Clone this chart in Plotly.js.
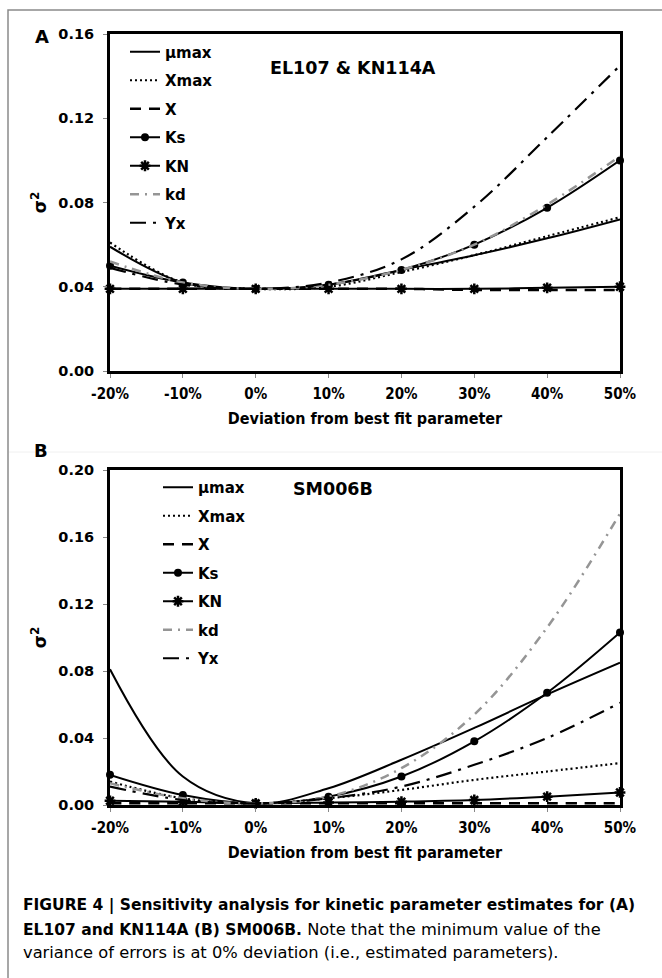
<!DOCTYPE html>
<html>
<head>
<meta charset="utf-8">
<script src="https://cdn.plot.ly/plotly-3.0.1.min.js"></script>
<style>
  html, body { margin: 0; padding: 0; background: #fff; }
  #chart { width: 662px; height: 978px; }
</style>
</head>
<body>
<div id="chart"></div>
<script>
// ---- data ----
const xPct = [-20, -10, 0, 10, 20, 30, 40, 50];
const seriesNames = ["μmax", "Xmax", "X", "Ks", "KN", "kd", "Yx"];

// Panel A: EL107 & KN114A
const muMaxA = [0.059, 0.042, 0.039, 0.041, 0.048, 0.055, 0.063, 0.072];
const xMaxA  = [0.061, 0.042, 0.039, 0.040, 0.047, 0.055, 0.064, 0.073];
const xA     = [0.039, 0.039, 0.039, 0.039, 0.039, 0.0385, 0.0385, 0.0385];
const ksA    = [0.050, 0.042, 0.039, 0.041, 0.048, 0.060, 0.0775, 0.100];
const knA    = [0.039, 0.039, 0.039, 0.039, 0.039, 0.039, 0.0395, 0.040];
const kdA    = [0.052, 0.042, 0.039, 0.041, 0.048, 0.060, 0.079, 0.102];
const yxA    = [0.049, 0.041, 0.039, 0.042, 0.053, 0.078, 0.111, 0.145];

// Panel B: SM006B
const muMaxB = [0.081, 0.017, 0.001, 0.010, 0.027, 0.046, 0.066, 0.085];
const xMaxB  = [0.014, 0.004, 0.001, 0.004, 0.009, 0.015, 0.020, 0.025];
const xB     = [0.001, 0.001, 0.001, 0.001, 0.001, 0.001, 0.001, 0.001];
const ksB    = [0.018, 0.006, 0.001, 0.005, 0.017, 0.038, 0.067, 0.103];
const knB    = [0.0025, 0.002, 0.001, 0.0015, 0.002, 0.003, 0.005, 0.0075];
const kdB    = [0.013, 0.004, 0.001, 0.005, 0.022, 0.054, 0.106, 0.174];
const yxB    = [0.011, 0.003, 0.001, 0.004, 0.011, 0.024, 0.040, 0.061];

const panelA = [muMaxA, xMaxA, xA, ksA, knA, kdA, yxA];
const panelB = [muMaxB, xMaxB, xB, ksB, knB, kdB, yxB];

// ---- styles ----
const W = 662, H = 978;
const px = v => v / W;
const py = v => 1 - v / H;
const FONT = "DejaVu Sans, Liberation Sans, Arial, sans-serif";
const FONTC = "DejaVu Sans Condensed, DejaVu Sans, Liberation Sans, Arial, sans-serif";

const styles = [
  {line: {color: "#000", width: 2, dash: "solid"}, mode: "lines"},
  {line: {color: "#000", width: 2.2, dash: "2px,3px"}, mode: "lines"},
  {line: {color: "#000", width: 2.5, dash: "11px,8px"}, mode: "lines"},
  {line: {color: "#000", width: 2}, mode: "lines+markers", marker: {symbol: "circle", size: 8, color: "#000"}},
  {line: {color: "#000", width: 2}, mode: "lines+markers", marker: {symbol: "asterisk-open", size: 9, color: "#000", line: {width: 2.5, color: "#000"}}},
  {line: {color: "#959595", width: 2.5, dash: "9px,6px,2px,6px"}, mode: "lines"},
  {line: {color: "#000", width: 2.2, dash: "16px,7px,3px,7px"}, mode: "lines"}
];

const traces = [];
function addPanel(data, xa, ya, legendId) {
  data.forEach((ys, i) => {
    const st = styles[i];
    const tr = {
      type: "scatter",
      x: xPct, y: ys,
      name: seriesNames[i],
      xaxis: xa, yaxis: ya,
      legend: legendId,
      legendgroup: legendId + "_" + i,
      cliponaxis: false,
      line: Object.assign({shape: "spline", smoothing: 1}, st.line),
      mode: st.mode
    };
    if (st.marker) tr.marker = st.marker;
    traces.push(tr);
  });
}
addPanel(panelA, "x", "y", "legend");
addPanel(panelB, "x2", "y2", "legend2");

const xTickFont = {family: FONTC, size: 15, color: "#000", weight: "bold"};
const yTickFont = {family: FONT, size: 14.5, color: "#000", weight: "bold"};
const xTitleFont = {family: FONTC, size: 16, color: "#000", weight: "bold"};

function xAxis(anchor, domain) {
  return {
    anchor: anchor, domain: domain, range: [-20, 50],
    tickvals: xPct, ticktext: xPct.map(v => v + "%"),
    ticks: "outside", ticklen: 4, tickcolor: "#888", tickwidth: 1,
    ticklabelstandoff: 3,
    showline: true, linecolor: "#000", linewidth: 3, mirror: true,
    showgrid: false, zeroline: false,
    tickfont: xTickFont,
    title: {text: "<b>Deviation from best fit parameter</b>", font: xTitleFont, standoff: 11}
  };
}
function yAxis(anchor, domain, range, tv) {
  return {
    anchor: anchor, domain: domain, range: range,
    tickvals: tv, ticktext: tv.map(v => v.toFixed(2)),
    ticks: "outside", ticklen: 4, tickcolor: "#888", tickwidth: 1,
    ticklabelstandoff: 6,
    showline: true, linecolor: "#000", linewidth: 3, mirror: true,
    showgrid: false, zeroline: false,
    tickfont: yTickFont,
    title: {text: "<b>σ<sup>2</sup></b>", font: {family: FONT, size: 17, color: "#000", weight: "bold"}, standoff: 8}
  };
}

const legendCommon = {
  bgcolor: "rgba(0,0,0,0)", borderwidth: 0,
  font: {family: FONT, size: 15, color: "#000", weight: "bold"},
  traceorder: "grouped", tracegroupgap: 6,
  xanchor: "left", yanchor: "top", itemwidth: 30
};

const capFont = {family: FONT, size: 15.5, color: "#000"};
const REG = s => '<span style="font-size:16.3px">' + s + '</span>';

const layout = {
  width: W, height: H,
  margin: {l: 0, r: 0, t: 0, b: 0},
  paper_bgcolor: "#fff", plot_bgcolor: "#fff",
  showlegend: true,
  xaxis: xAxis("y", [px(110), px(620)]),
  yaxis: yAxis("x", [py(371), py(34)], [0, 0.16], [0, 0.04, 0.08, 0.12, 0.16]),
  xaxis2: xAxis("y2", [px(110), px(620)]),
  yaxis2: yAxis("x2", [py(805), py(470)], [0, 0.20], [0, 0.04, 0.08, 0.12, 0.16, 0.20]),
  legend: Object.assign({x: px(125), y: py(35.5)}, legendCommon),
  legend2: Object.assign({x: px(158), y: py(471)}, legendCommon),
  shapes: [
    {type: "rect", xref: "paper", yref: "paper", x0: px(8), x1: 1.05, y0: -0.05, y1: py(10),
     line: {color: "#8a8a8a", width: 1.5}, fillcolor: "rgba(0,0,0,0)", layer: "below"},
    {type: "line", xref: "paper", yref: "paper", x0: px(9), x1: px(662), y0: py(452), y1: py(452),
     line: {color: "#f0f0f0", width: 1}, layer: "below"}
  ],
  annotations: [
    {text: "<b>A</b>", xref: "paper", yref: "paper", x: px(42), y: py(36), showarrow: false,
     font: {family: FONT, size: 18, color: "#000"}, xanchor: "center", yanchor: "middle"},
    {text: "<b>B</b>", xref: "paper", yref: "paper", x: px(41), y: py(451), showarrow: false,
     font: {family: FONT, size: 18, color: "#000"}, xanchor: "center", yanchor: "middle"},
    {text: "<b>EL107 &amp; KN114A</b>", xref: "paper", yref: "paper", x: px(353), y: py(68), showarrow: false,
     font: {family: FONT, size: 17.5, color: "#000"}, xanchor: "center", yanchor: "middle"},
    {text: "<b>SM006B</b>", xref: "paper", yref: "paper", x: px(333), y: py(489), showarrow: false,
     font: {family: FONT, size: 17.5, color: "#000"}, xanchor: "center", yanchor: "middle"},
    {text: "<b>FIGURE 4 | Sensitivity analysis for kinetic parameter estimates for (A)</b>", xref: "paper", yref: "paper",
     x: px(21), y: py(905), showarrow: false, font: capFont, xanchor: "left", yanchor: "middle"},
    {text: "<b>EL107 and KN114A (B) SM006B.</b>" + REG(" Note that the minimum value of the"), xref: "paper", yref: "paper",
     x: px(21), y: py(929), showarrow: false, font: capFont, xanchor: "left", yanchor: "middle"},
    {text: REG("variance of errors is at 0% deviation (i.e., estimated parameters)."), xref: "paper", yref: "paper",
     x: px(21), y: py(952), showarrow: false, font: capFont, xanchor: "left", yanchor: "middle"}
  ]
};

Plotly.newPlot("chart", traces, layout, {staticPlot: true, displayModeBar: false});
</script>
</body>
</html>
